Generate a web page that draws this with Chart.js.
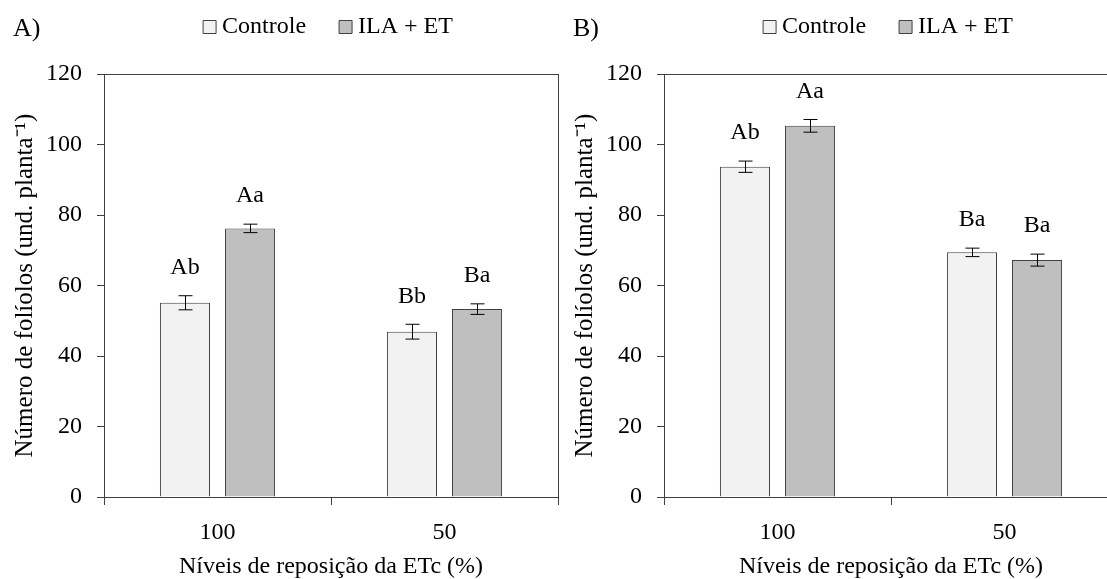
<!DOCTYPE html>
<html>
<head>
<meta charset="utf-8">
<script src="https://cdn.jsdelivr.net/npm/chart.js@4/dist/chart.umd.min.js"></script>
<style>
  body { margin: 0; background: #fff; }
  #wrap { position: relative; width: 1107px; height: 579px; overflow: hidden; background: #fff; }
  .panel { position: absolute; top: 0; width: 560px; height: 579px; }
</style>
</head>
<body>
<div id="wrap">
  <div class="panel" style="left:0"><canvas id="chartA" width="560" height="579"></canvas></div>
  <div class="panel" style="left:560px"><canvas id="chartB" width="560" height="579"></canvas></div>
</div>
<script>
// data
const categories = ['100', '50'];
const seriesNames = ['Controle', 'ILA + ET'];

const controleA = [55.1, 46.9];
const controleAErr = [2.0, 2.1];
const ilaA = [76.2, 53.3];
const ilaAErr = [1.2, 1.5];
const controleALetters = ['Ab', 'Bb'];
const ilaALetters = ['Aa', 'Ba'];

const controleB = [93.7, 69.4];
const controleBErr = [1.6, 1.2];
const ilaB = [105.3, 67.2];
const ilaBErr = [1.8, 1.7];
const controleBLetters = ['Ab', 'Ba'];
const ilaBLetters = ['Aa', 'Ba'];

const yMin = 0, yMax = 120, yStep = 20;

const serif = "'Liberation Serif', 'Times New Roman', serif";
const axisColor = '#404040';
Chart.defaults.font.family = serif;
Chart.defaults.font.size = 24;
Chart.defaults.color = '#000';

// error bars, letters, box round the plot area and the panel tag
const extras = {
    id: 'extras',
    afterDatasetsDraw(chart) {
        const c = chart.ctx;
        const y = chart.scales.y;
        const area = chart.chartArea;
        c.save();
        c.strokeStyle = axisColor;
        c.lineWidth = 1;
        c.strokeRect(Math.round(area.left) + 0.5, Math.round(area.top) + 0.5,
            Math.round(area.right - area.left), Math.round(area.bottom - area.top));

        chart.data.datasets.forEach((ds, i) => {
            const meta = chart.getDatasetMeta(i);
            meta.data.forEach((bar, j) => {
                const v = ds.data[j], e = ds.errors[j];
                const x = Math.round(bar.x) + 0.5;
                const yt = y.getPixelForValue(v + e);
                const yb = y.getPixelForValue(v - e);
                c.strokeStyle = '#000';
                c.beginPath();
                c.moveTo(x, yt); c.lineTo(x, yb);
                c.moveTo(x - 7, yt); c.lineTo(x + 7, yt);
                c.moveTo(x - 7, yb); c.lineTo(x + 7, yb);
                c.stroke();
                c.fillStyle = '#000';
                c.font = '24px ' + serif;
                c.textAlign = 'center';
                c.textBaseline = 'middle';
                c.fillText(ds.letters[j], bar.x, yt - 28);
            });
        });

        c.font = '26px ' + serif;
        c.textAlign = 'left';
        c.textBaseline = 'middle';
        c.fillText(chart.options.panelTag, 13, 29);
        c.restore();
    }
};

function makeChart(id, tag, ctrl, ctrlErr, ctrlLetters, ila, ilaErr, ilaLetters) {
    return new Chart(document.getElementById(id), {
        type: 'bar',
        data: {
            labels: categories,
            datasets: [{
                label: seriesNames[0],
                data: ctrl,
                errors: ctrlErr,
                letters: ctrlLetters,
                backgroundColor: '#f2f2f2',
                borderColor: axisColor,
                borderWidth: 1
            }, {
                label: seriesNames[1],
                data: ila,
                errors: ilaErr,
                letters: ilaLetters,
                backgroundColor: '#bfbfbf',
                borderColor: axisColor,
                borderWidth: 1
            }]
        },
        options: {
            panelTag: tag,
            responsive: false,
            animation: false,
            devicePixelRatio: 1,
            categoryPercentage: 0.573,
            barPercentage: 0.77,
            layout: { padding: { top: -24, right: 2, left: 0, bottom: 0 } },
            plugins: {
                legend: {
                    position: 'top',
                    fullSize: false,
                    labels: {
                        usePointStyle: true,
                        pointStyle: 'rect',
                        boxWidth: 1,
                        boxHeight: 13,
                        padding: 39,
                        font: { size: 24, family: serif },
                        color: '#000'
                    }
                },
                // empty title used only as a gap between legend and plot
                title: {
                    display: true,
                    text: '',
                    weight: 500,
                    fullSize: false,
                    font: { size: 10 },
                    padding: { top: 6, bottom: 7 }
                },
                tooltip: { enabled: false }
            },
            scales: {
                x: {
                    afterFit: s => { s.height = 82; },
                    border: { color: axisColor, width: 1 },
                    grid: { display: true, drawOnChartArea: false, offset: true, tickLength: 8, color: axisColor },
                    ticks: { padding: 13, font: { size: 24, family: serif }, color: '#000' },
                    title: {
                        display: true,
                        text: 'Níveis de reposição da ETc (%)',
                        font: { size: 24, family: serif },
                        color: '#000',
                        padding: { top: 0, bottom: -2 }
                    }
                },
                y: {
                    min: yMin,
                    max: yMax,
                    afterFit: s => { s.width = 104; },
                    border: { color: axisColor, width: 1 },
                    grid: { display: true, drawOnChartArea: false, tickLength: 7, color: axisColor },
                    ticks: { stepSize: yStep, padding: 15, font: { size: 24, family: serif }, color: '#000' },
                    title: {
                        display: true,
                        text: 'Número de folíolos (und. planta⁻¹)',
                        font: { size: 25, family: serif },
                        color: '#000',
                        padding: { top: 10, bottom: 0 }
                    }
                }
            }
        },
        plugins: [extras]
    });
}

makeChart('chartA', 'A)', controleA, controleAErr, controleALetters, ilaA, ilaAErr, ilaALetters);
makeChart('chartB', 'B)', controleB, controleBErr, controleBLetters, ilaB, ilaBErr, ilaBLetters);
</script>
</body>
</html>
